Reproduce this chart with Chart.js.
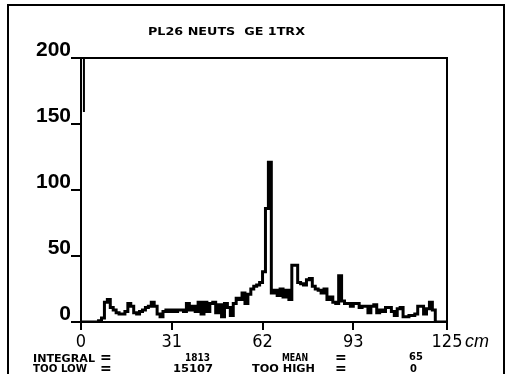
<!DOCTYPE html>
<html>
<head>
<meta charset="utf-8">
<script src="https://cdn.jsdelivr.net/npm/chart.js@4/dist/chart.umd.min.js"></script>
<style>
  html, body { margin: 0; padding: 0; background: #fff; }
  #c { display: block; }
</style>
</head>
<body>
<canvas id="c" width="511" height="374"></canvas>
<script>
// Counts per 1 cm channel, 0 to 125 cm
const counts = [
  0, 0, 0, 0, 0, 0, 1, 3, 15, 17,
  11, 9, 7, 6, 6, 8, 14, 12, 7, 6,
  8, 9, 11, 12, 15, 12, 6, 4, 8, 9,
  8, 9, 8, 9, 9, 8, 14, 9, 12, 8,
  15, 6, 15, 8, 14, 15, 7, 13, 4, 14,
  11, 5, 14, 18, 17, 22, 14, 21, 25, 27,
  28, 30, 38, 86, 121, 22, 24, 20, 25, 19,
  24, 17, 43, 43, 30, 29, 28, 32, 33, 27,
  25, 24, 22, 25, 17, 19, 15, 14, 35, 16,
  14, 14, 12, 14, 14, 11, 12, 12, 7, 12,
  13, 7, 9, 8, 11, 11, 8, 5, 10, 11,
  4, 4, 5, 5, 6, 12, 12, 6, 10, 15,
  9, 0, 0, 0, 0
];
const binWidth = 1;
const xTickValues = [0, 31, 62, 93, 125];
const yTickValues = [0, 50, 100, 150, 200];
// The first channel runs off the top of the scale; its falling edge
const overflowEdgeX = [1, 1];
const overflowEdgeY = [200, 159];

const titleText = 'PL26 NEUTS  GE 1TRX';
const statLabels = ['INTEGRAL', 'TOO LOW', 'MEAN', 'TOO HIGH'];
const statValues = ['1813', '15107', '65', '0'];
const unitText = 'cm';

// Histogram outline points at the left edge of each channel
const histPoints = counts.map((v, i) => ({ x: i * binWidth, y: v }))
  .concat([{ x: counts.length * binWidth, y: 0 }]);
const overflowPoints = overflowEdgeX.map((x, i) => ({ x, y: overflowEdgeY[i] }));

// Draw a string squeezed or stretched to a given width
function fitText(ctx, text, x, y, width, font) {
  ctx.save();
  ctx.font = font;
  const w = ctx.measureText(text).width;
  ctx.translate(x, y);
  ctx.scale(width / w, 1);
  ctx.textAlign = 'left';
  ctx.textBaseline = 'alphabetic';
  ctx.fillText(text, 0, 0);
  ctx.restore();
}

function plainText(ctx, text, x, y, font) {
  ctx.save();
  ctx.font = font;
  ctx.textAlign = 'left';
  ctx.textBaseline = 'alphabetic';
  ctx.fillText(text, x, y);
  ctx.restore();
}

const decorations = {
  id: 'decorations',
  beforeDraw(chart) {
    const ctx = chart.ctx;
    ctx.save();
    ctx.fillStyle = '#fff';
    ctx.fillRect(0, 0, chart.width, chart.height);
    ctx.restore();
  },
  afterDraw(chart) {
    const { ctx, chartArea: a } = chart;
    const xs = chart.scales.x;
    ctx.save();
    ctx.strokeStyle = '#000';
    ctx.fillStyle = '#000';
    // top and right edges of the plot box
    ctx.lineWidth = 2;
    ctx.beginPath();
    ctx.moveTo(a.left, a.top);
    ctx.lineTo(a.right, a.top);
    ctx.lineTo(a.right, a.bottom);
    ctx.stroke();
    // page border (open at the bottom)
    ctx.beginPath();
    ctx.moveTo(8, chart.height);
    ctx.lineTo(8, 5);
    ctx.lineTo(504, 5);
    ctx.lineTo(504, chart.height);
    ctx.stroke();

    // title
    fitText(ctx, titleText, 148, 35, 157, 'bold 11px "DejaVu Sans"');

    // unit after the last x tick label
    ctx.font = 'italic 18px "Liberation Sans", Arial, sans-serif';
    ctx.textAlign = 'left';
    ctx.textBaseline = 'alphabetic';
    ctx.fillText(unitText, xs.getPixelForValue(125) + 18, 347);

    // statistics block
    const f = 'bold 11px "DejaVu Sans Condensed", "DejaVu Sans", sans-serif';
    const eq = 'bold 14px "DejaVu Sans", sans-serif';
    fitText(ctx, statLabels[0], 33, 362, 62, f);
    plainText(ctx, '=', 100, 362, eq);
    fitText(ctx, statLabels[1], 33, 372, 54, f);
    plainText(ctx, '=', 100, 373, eq);
    fitText(ctx, statValues[0], 185, 361, 25, f);
    fitText(ctx, statValues[1], 173, 372, 40, f);
    fitText(ctx, statLabels[2], 282, 361, 26, f);
    plainText(ctx, '=', 335, 362, eq);
    fitText(ctx, statLabels[3], 252, 372, 63, f);
    plainText(ctx, '=', 335, 373, eq);
    plainText(ctx, statValues[2], 409, 360, f);
    plainText(ctx, statValues[3], 410, 372, f);
    ctx.restore();
  }
};

new Chart(document.getElementById('c'), {
  type: 'line',
  data: {
    datasets: [
      {
        data: histPoints,
        stepped: 'before',
        borderColor: '#000',
        borderWidth: 3,
        borderJoinStyle: 'miter',
        borderCapStyle: 'butt',
        pointRadius: 0,
        fill: false,
        tension: 0
      },
      {
        data: overflowPoints,
        borderColor: '#000',
        borderWidth: 2,
        pointRadius: 0,
        fill: false
      }
    ]
  },
  options: {
    responsive: false,
    animation: false,
    devicePixelRatio: 1,
    layout: { padding: { left: 0, top: 58, right: 64, bottom: 0 } },
    plugins: {
      legend: { display: false },
      tooltip: { enabled: false },
      title: { display: false }
    },
    scales: {
      x: {
        type: 'linear',
        min: 0,
        max: 125,
        afterBuildTicks: (s) => { s.ticks = xTickValues.map(v => ({ value: v })); },
        afterFit: (s) => { s.height = 52; },
        border: { display: true, color: '#000', width: 2 },
        grid: { drawOnChartArea: false, drawTicks: true, tickLength: 8, color: '#000', lineWidth: 2 },
        ticks: {
          color: '#000',
          padding: 2,
          maxRotation: 0,
          autoSkip: false,
          font: { family: '"Liberation Sans Narrow", "DejaVu Sans Condensed", sans-serif', size: 18 }
        }
      },
      y: {
        type: 'linear',
        min: 0,
        max: 200,
        afterBuildTicks: (s) => { s.ticks = yTickValues.map(v => ({ value: v })); },
        afterFit: (s) => { s.width = 81; },
        border: { display: true, color: '#000', width: 2 },
        grid: { drawOnChartArea: false, drawTicks: true, tickLength: 10, color: '#000', lineWidth: 2 },
        ticks: {
          color: '#000',
          padding: 0,
          labelOffset: -8,
          font: { family: '"Liberation Sans", Arial, sans-serif', size: 21, weight: 'bold' }
        }
      }
    }
  },
  plugins: [decorations]
});
</script>
</body>
</html>
